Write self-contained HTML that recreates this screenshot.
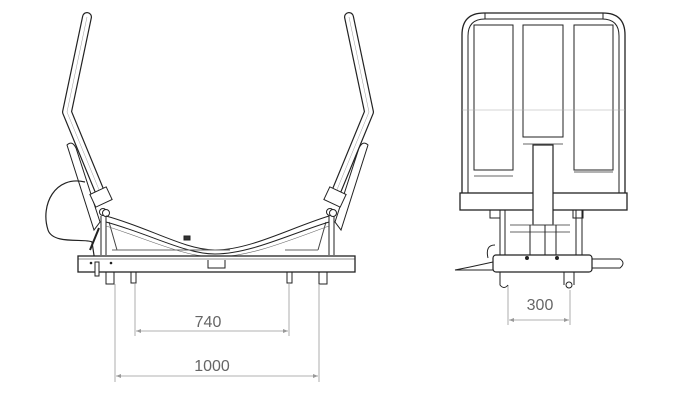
<!DOCTYPE html>
<html><head><meta charset="utf-8"><style>html,body{margin:0;padding:0;background:#fff}svg{display:block}</style></head><body>
<svg width="700" height="419" viewBox="0 0 700 419" xmlns="http://www.w3.org/2000/svg">
<defs>
<marker id="a" viewBox="0 0 10 10" refX="10" refY="5" markerWidth="12" markerHeight="5" orient="auto-start-reverse" markerUnits="userSpaceOnUse"><path d="M0,1 L10,5 L0,9z" fill="#999"/></marker>
</defs>
<g fill="none" stroke="#222" stroke-width="1">
<!-- back pads -->
<path d="M67,145 Q72,140 76,148 L100,222 L94,230 Z" fill="#fff"/>
<path d="M368,145 Q363,140 359,148 L335,222 L341,230 Z" fill="#fff"/>
<!-- left arm tube -->
<path d="M87,17 L67,112 L102,197" stroke-width="10" stroke-linecap="round" stroke-linejoin="round"/>
<path d="M87,17 L67,112 L102,197" stroke="#fff" stroke-width="7.6" stroke-linecap="round" stroke-linejoin="round"/>
<path d="M87,17 L67,112 L102,197" stroke="#999" stroke-width="0.5"/>
<rect x="92" y="190" width="18" height="14" transform="rotate(-25 101 197)" fill="#fff"/>
<!-- right arm tube -->
<path d="M349,17 L369,112 L334,197" stroke-width="10" stroke-linecap="round" stroke-linejoin="round"/>
<path d="M349,17 L369,112 L334,197" stroke="#fff" stroke-width="7.6" stroke-linecap="round" stroke-linejoin="round"/>
<path d="M349,17 L369,112 L334,197" stroke="#999" stroke-width="0.5"/>
<rect x="326" y="190" width="18" height="14" transform="rotate(25 335 197)" fill="#fff"/>
<circle cx="103" cy="212" r="3.5" fill="#fff"/><circle cx="106" cy="213" r="3.5" fill="#fff"/>
<circle cx="330" cy="212" r="3.5" fill="#fff"/><circle cx="333" cy="213" r="3.5" fill="#fff"/>
<!-- cable -->
<path d="M85,182 C55,175 40,205 48,230 C53,245 85,238 92,242 L95,262" stroke-width="1.2"/>
<path d="M99,228 L90,250" stroke-width="2"/>
<!-- posts -->
<path d="M101,216 L101,255 M106,216 L106,255 M329,216 L329,255 M334,216 L334,255"/>
<path d="M109,222 L117,250 M326,222 L318,250" stroke="#444"/>
<!-- seat curve -->
<path d="M106,216 C150,228 185,250 215,250 C250,250 290,228 329,216"/>
<path d="M106,222 C150,234 185,254 215,254 C250,254 290,234 329,222"/>
<path d="M106,226 C150,240 185,257 215,257 C250,257 290,240 329,226" stroke="#666" stroke-width="0.6"/>
<rect x="184" y="236" width="6" height="4" fill="#333"/>
<path d="M112,250 L230,250 M285,250 L318,250" stroke="#666"/>
<!-- base bar -->
<rect x="78" y="256" width="277" height="16" fill="#fff" stroke-width="1.3"/>
<path d="M78,259 L355,259" stroke-width="0.6"/>
<path d="M208,260 L208,268 L225,268 L225,260"/>
<rect x="95" y="262" width="4" height="14" fill="#fff"/>
<circle cx="91" cy="263" r="0.8" fill="#222"/><circle cx="111" cy="263" r="0.8" fill="#222"/>
<!-- feet -->
<rect x="106" y="272" width="8" height="12"/><rect x="131" y="272" width="5" height="11"/>
<rect x="287" y="272" width="5" height="11"/><rect x="319" y="272" width="8" height="12"/>
</g>
<g stroke="#999" stroke-width="0.8" fill="none">
<path d="M135,283 L135,336 M289,283 L289,336 M115,284 L115,382 M319,284 L319,382"/>
<path d="M136,331 L288,331" marker-start="url(#a)" marker-end="url(#a)"/>
<path d="M116,376 L318,376" marker-start="url(#a)" marker-end="url(#a)"/>
<path d="M508,285 L508,325 M570,290 L570,325"/>
<path d="M509,320 L569,320" marker-start="url(#a)" marker-end="url(#a)"/>
</g>
<g font-family="Liberation Sans, sans-serif" font-size="16" fill="#666" text-anchor="middle">
<text x="208" y="327">740</text>
<text x="212" y="371">1000</text>
<text x="540" y="310">300</text>
</g>
<!-- right view -->
<g fill="none" stroke="#222" stroke-width="1">
<path d="M462,193 L462,35 Q462,13 484,13 L603,13 Q625,13 625,35 L625,193" stroke-width="1.3"/>
<path d="M468,193 L468,36 Q468,19 485,19 L602,19 Q619,19 619,36 L619,193"/>
<path d="M485,13 L485,19 M603,13 L603,19"/>
<rect x="474" y="25" width="39" height="145"/>
<rect x="523" y="25" width="40" height="112"/>
<rect x="574" y="25" width="39" height="145"/>
<path d="M474,176 L513,176 M574,172 L613,172 M523,144 L563,144" stroke="#666"/>
<path d="M462,110 L625,110" stroke="#aaa" stroke-width="0.6"/>
<rect x="460" y="193" width="167" height="17" fill="#fff" stroke-width="1.3"/>
<rect x="533" y="145" width="20" height="80" fill="#fff" stroke-width="1.2"/>
<rect x="490" y="210" width="10" height="8"/><rect x="573" y="210" width="10" height="8"/>
<path d="M500,210 L500,255 M505,210 L505,255 M576,210 L576,255 M582,210 L582,255"/>
<path d="M510,225 L570,225 M510,232 L570,232" stroke="#666"/>
<path d="M530,225 L530,255 M545,225 L545,255 M556,225 L556,255"/>
<rect x="493" y="255" width="99" height="17" rx="3" fill="#fff" stroke-width="1.2"/>
<path d="M592,259 L620,259 Q626,263 620,268 L592,268"/>
<path d="M493,262 L470,267 L455,270 L493,270" />
<path d="M495,245 Q485,245 488,258"/>
<path d="M500,272 L500,285 Q504,290 508,285"/>
<circle cx="569" cy="285" r="3"/>
<path d="M564,272 L564,285 M574,272 L574,285"/>
<circle cx="527" cy="258" r="1.5" fill="#222"/><circle cx="557" cy="258" r="1.5" fill="#222"/>
</g>
</svg>
</body></html>
